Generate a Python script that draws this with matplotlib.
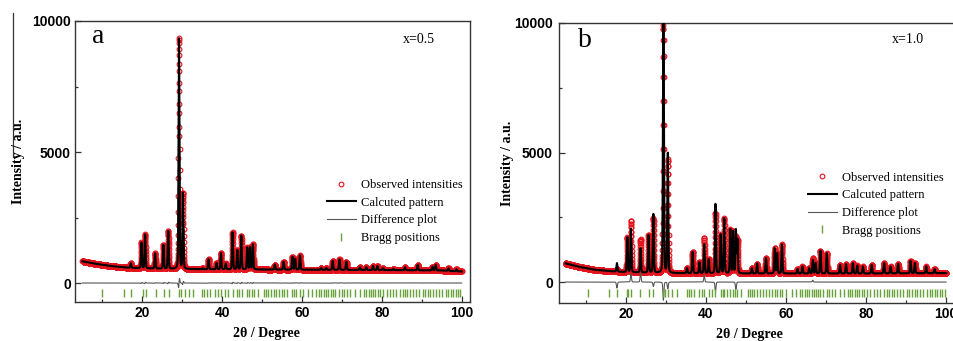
import matplotlib
import matplotlib.pyplot as plt
import numpy as np
from matplotlib.lines import Line2D

matplotlib.use("Agg")

# ---- panel a (x=0.5): peaks (2theta, total intensity) ----
a_pos = [17.1, 19.8, 20.7, 23.2, 25.3, 26.5, 29.2, 30.2, 35.1, 36.6, 38.6, 39.7,
         40.9, 42.6, 43.8, 44.8, 46.3, 47.0, 47.7, 53.2, 55.4, 57.6, 58.3, 59.5,
         64.8, 66.1, 67.7, 69.4, 71.1, 74.5, 76.1, 77.8, 78.9, 80.3, 82.9, 85.8,
         89.0, 92.7, 93.5, 96.7, 98.7]
a_height = [750, 1540, 1850, 1130, 1450, 1980, 9330, 3420, 560, 900, 760, 1140,
            740, 1930, 1250, 1800, 1350, 1360, 1470, 700, 810, 1000, 920, 1050,
            570, 570, 850, 900, 810, 600, 600, 650, 650, 560, 540, 600,
            690, 620, 690, 560, 520]
a_bg_x = [5, 8, 12, 16, 20, 30, 50, 80, 95, 100]
a_bg_y = [830, 740, 650, 590, 560, 530, 515, 495, 480, 440]
a_shift = 0.004  # small offset between observed and calculated profile
a_bragg = [10.0, 15.3, 17.2, 20.1, 20.9, 23.4, 25.5, 26.6, 29.1, 29.6, 30.6, 31.7,
           32.8, 35.0, 35.5, 36.2, 37.0, 38.2, 39.0, 39.6, 40.6, 41.5, 42.6, 43.8,
           44.3, 45.0, 46.2, 46.8, 47.4, 48.0, 49.0, 50.5, 51.0, 51.6, 52.2, 53.0,
           53.5, 54.3, 55.0, 55.6, 56.3, 57.5, 58.0, 58.6, 59.4, 60.2, 61.5, 62.6,
           63.6, 64.2, 64.8, 65.4, 65.9, 66.5, 67.2, 67.7, 68.4, 69.2, 70.0, 70.6,
           71.3, 72.0, 73.4, 74.5, 75.6, 76.1, 76.7, 77.3, 77.8, 78.4, 79.0, 79.6,
           80.3, 81.2, 82.0, 82.9, 83.6, 84.5, 85.3, 85.8, 86.4, 87.1, 87.8, 88.5,
           89.3, 90.2, 90.8, 91.5, 92.2, 92.8, 93.5, 94.3, 95.2, 96.0, 96.6, 97.3,
           97.9, 98.5, 99.1, 99.6]

# ---- panel b (x=1.0) ----
b_pos = [17.8, 20.4, 21.3, 23.7, 25.7, 26.9, 29.4, 30.5, 35.3, 36.7, 38.4, 39.6,
         40.7, 42.4, 43.7, 44.6, 46.1, 46.8, 47.5, 47.9, 51.5, 52.8, 55.0, 57.2,
         57.8, 59.0, 62.9, 64.1, 65.8, 66.7, 67.4, 68.6, 70.2, 73.5, 75.0, 76.7,
         77.8, 79.2, 81.4, 84.5, 86.1, 88.0, 91.1, 92.2, 95.0, 97.1]
b_calc = [730, 1720, 2050, 1300, 1810, 2620, 10600, 4960, 535, 1160, 760, 1450,
          880, 3010, 1830, 2460, 2030, 1950, 2000, 1620, 535, 710, 920, 1300,
          1110, 1450, 500, 600, 535, 850, 730, 1210, 1110, 660, 690, 730,
          640, 600, 660, 730, 600, 700, 815, 730, 600, 500]
b_obs = [500, 1720, 2360, 1650, 1810, 2450, 9900, 4700, 535, 1160, 760, 1700,
         880, 2650, 1830, 2460, 2030, 1950, 1720, 1620, 535, 710, 920, 1300,
         1110, 1450, 500, 600, 535, 920, 730, 1210, 1110, 660, 690, 730,
         640, 600, 660, 730, 600, 700, 815, 730, 600, 500]
b_bg_x = [5, 8, 12, 16, 20, 30, 50, 80, 100]
b_bg_y = [720, 600, 480, 420, 380, 345, 330, 330, 345]
b_bragg = [10.5, 15.8, 17.8, 20.2, 20.6, 21.3, 23.6, 25.7, 26.9, 29.3, 29.7, 30.5,
           31.6, 32.7, 35.2, 35.8, 36.4, 37.1, 38.3, 39.0, 39.6, 40.7, 41.6, 42.4,
           43.7, 44.2, 44.6, 45.2, 46.1, 46.7, 47.3, 47.9, 48.8, 50.4, 51.0, 51.5,
           52.1, 52.8, 53.4, 54.2, 55.0, 55.7, 56.4, 57.2, 57.8, 58.4, 59.0, 60.1,
           61.4, 62.5, 63.5, 64.1, 64.7, 65.3, 65.8, 66.4, 66.9, 67.4, 68.1, 68.6,
           69.3, 70.2, 70.8, 71.4, 72.2, 73.5, 74.6, 75.4, 76.0, 76.6, 77.2, 77.8,
           78.3, 78.9, 79.5, 80.2, 81.1, 81.9, 82.8, 83.5, 84.4, 85.2, 85.8, 86.4,
           87.0, 87.7, 88.4, 89.2, 90.1, 90.7, 91.4, 92.1, 92.7, 93.4, 94.2, 95.1,
           95.9, 96.5, 97.2, 97.8, 98.4, 99.0, 99.6]

FWHM = 0.28


def profile(x, pos, height, bg_x, bg_y):
    bg = np.interp(x, bg_x, bg_y)
    y = bg.copy()
    sig = FWHM / 2.355
    for p, h in zip(pos, height):
        amp = h - np.interp(p, bg_x, bg_y)
        y += amp * (0.8 * np.exp(-0.5 * ((x - p) / sig) ** 2)
                    + 0.2 / (1 + ((x - p) / (FWHM / 2)) ** 2))
    return y


plt.rcParams["font.family"] = ["Liberation Serif", "DejaVu Serif"]

fig = plt.figure(figsize=(9.54, 3.41), dpi=100)
ax_a = fig.add_axes([75 / 954, 1 - 302 / 341, 395 / 954, 281 / 341])
ax_b = fig.add_axes([559 / 954, 1 - 303 / 341, 396 / 954, 280 / 341])

x_fine = np.arange(5, 100.001, 0.005)
x_obs = np.arange(5, 100.001, 0.02)

red = "#e3141e"
green = "#6aa33c"

panels = [
    (ax_a, "a", "x=0.5", (3.14, 102.1), (-725, 10000),
     profile(x_obs - a_shift, a_pos, a_height, a_bg_x, a_bg_y),
     profile(x_fine, a_pos, a_height, a_bg_x, a_bg_y),
     profile(x_obs, a_pos, a_height, a_bg_x, a_bg_y),
     a_bragg, -365, (0.043, 0.922), (0.83, 0.922), (0.638, 0.437),
     (-0.127, 0.5), (0.484, -0.089), 3),
    (ax_b, "b", "x=1.0", (3.34, 102.2), (-809, 10000),
     profile(x_obs, b_pos, b_obs, b_bg_x, b_bg_y),
     profile(x_fine, b_pos, b_calc, b_bg_x, b_bg_y),
     profile(x_obs, b_pos, b_calc, b_bg_x, b_bg_y),
     b_bragg, -440, (0.048, 0.915), (0.841, 0.9275), (0.629, 0.469),
     (-0.114, 0.5), (0.482, -0.089), 4.5),
]

for (ax, tag, comp, xlim, ylim, y_obs, y_calc, y_calc_obs, bragg, bragg_y,
     tag_xy, comp_xy, leg_xy, ylab_xy, xlab_xy, ypad) in panels:
    ax.plot(x_obs, y_obs, "o", ms=3.4, mfc="none", mec=red, mew=0.8,
            label="Observed intensities", zorder=2)
    ax.plot(x_fine, y_calc, "-", color="black", lw=1.5,
            label="Calcuted pattern", zorder=3)
    ax.plot(x_obs, y_obs - y_calc_obs, "-", color="#555555", lw=0.8,
            label="Difference plot", zorder=3)
    ax.plot(bragg, np.full(len(bragg), bragg_y), ls="none", marker="|",
            ms=6, mew=1.0, color=green, label="Bragg positions", zorder=3)

    ax.set_xlim(*xlim)
    ax.set_ylim(*ylim)
    ax.set_xticks([20, 40, 60, 80, 100])
    ax.set_xticks([10, 30, 50, 70, 90], minor=True)
    ax.set_yticks([0, 5000, 10000])
    ax.set_yticks([2500, 7500], minor=True)
    ax.tick_params(which="both", direction="in", color="#333333", width=0.9)
    ax.tick_params(which="major", length=4)
    ax.tick_params(which="minor", length=2.5)
    ax.tick_params(axis="x", pad=3)
    ax.tick_params(axis="y", pad=ypad)
    for lab in ax.get_xticklabels() + ax.get_yticklabels():
        lab.set_family("Liberation Sans")
        lab.set_fontweight("bold")
        lab.set_fontsize(10)
    for s in ax.spines.values():
        s.set_color("#333333")
        s.set_linewidth(1.0)

    ax.set_xlabel("2θ / Degree", fontsize=10, fontweight="bold")
    ax.set_ylabel("Intensity / a.u.", fontsize=10, fontweight="bold")
    ax.xaxis.set_label_coords(*xlab_xy)
    ax.yaxis.set_label_coords(*ylab_xy)

    ax.text(tag_xy[0], tag_xy[1], tag, transform=ax.transAxes, fontsize=20,
            va="baseline", ha="left")
    ax.text(comp_xy[0], comp_xy[1], comp, transform=ax.transAxes, fontsize=10,
            va="baseline", ha="left")

    ax.legend(loc="upper left", bbox_to_anchor=leg_xy, frameon=False,
              fontsize=9, numpoints=1, handlelength=2.3, handletextpad=0.4,
              labelspacing=0.45, borderpad=0, borderaxespad=0)

# stray border line left of panel a
fig.add_artist(Line2D([12.7 / 954, 12.7 / 954], [1 - 13 / 341, 1 - 157 / 341],
                      color="#333333", lw=0.9))

fig.savefig("out.png", dpi=100)
plt.close(fig)
